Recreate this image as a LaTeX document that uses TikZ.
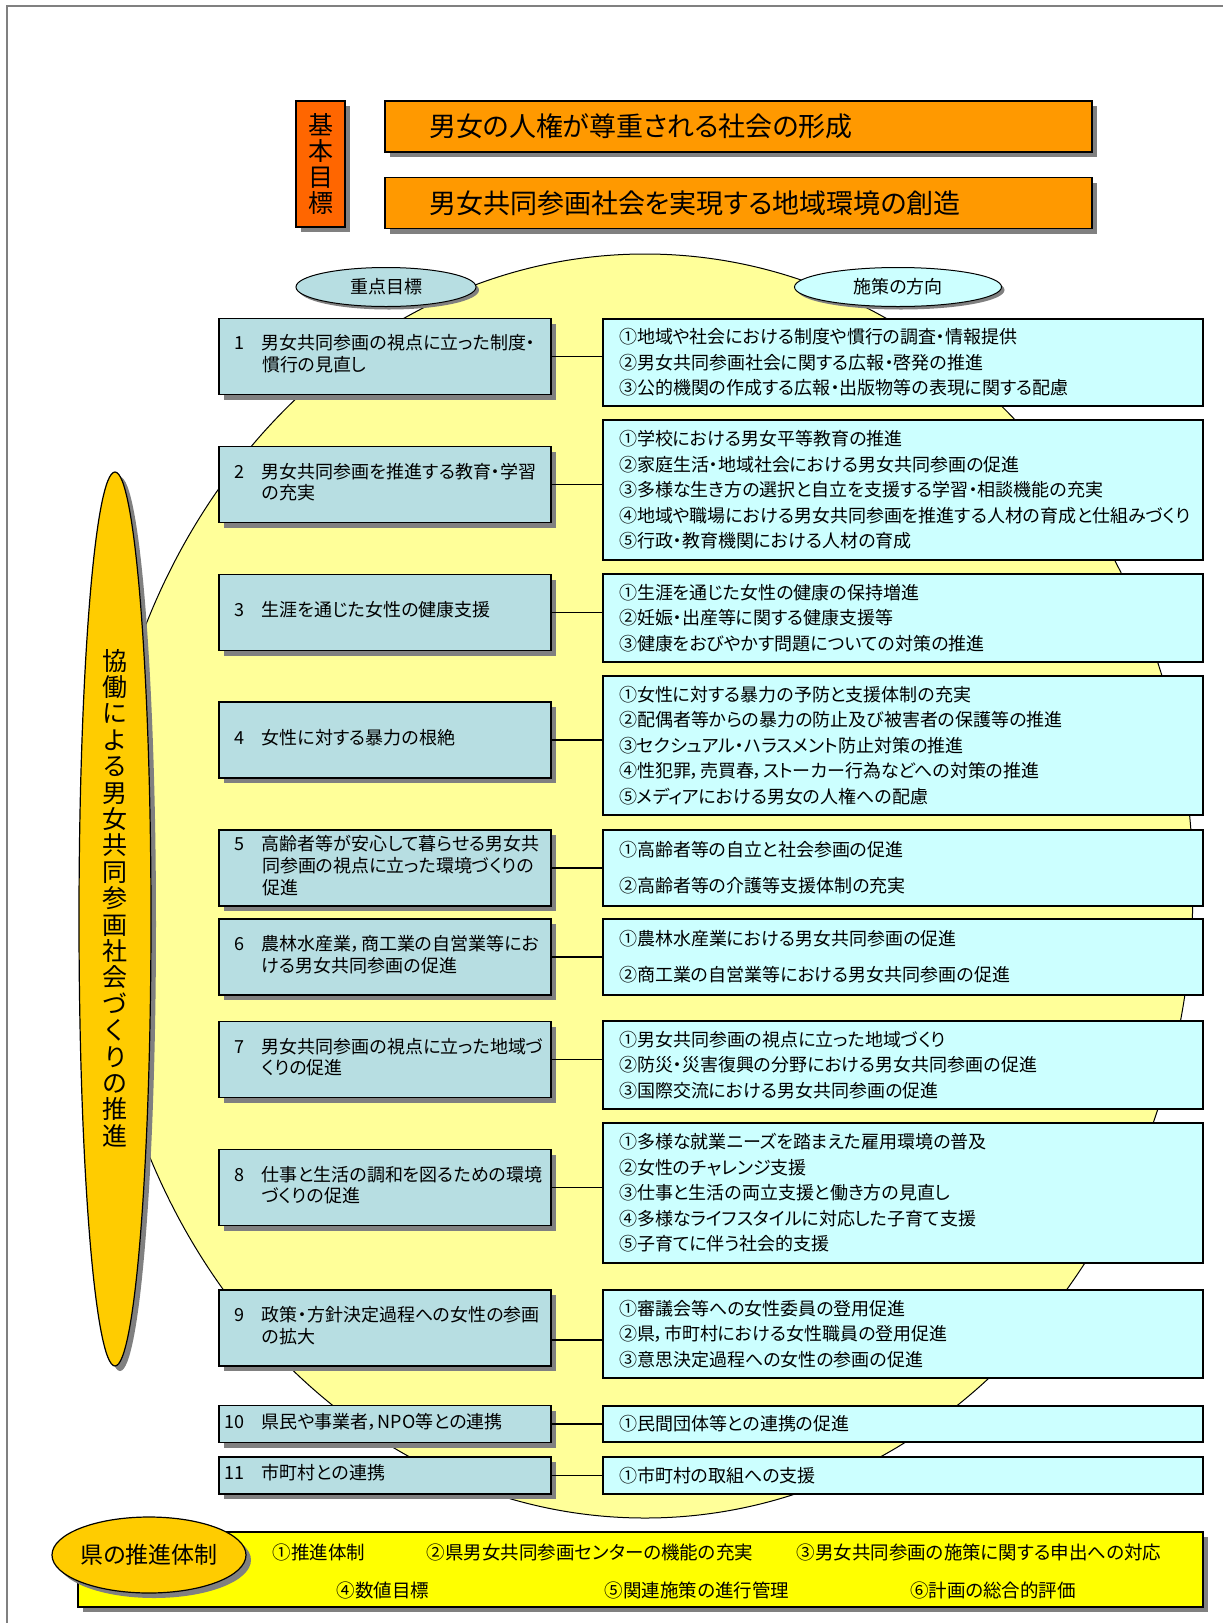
\documentclass[tikz,border=0pt]{standalone}
\usepackage{fontspec}
\setmainfont{Noto Sans CJK JP}[RawFeature=+palt]
\usetikzlibrary{shapes.geometric, shadows}

\definecolor{basefill}{HTML}{FF6600}
\definecolor{titlefill}{HTML}{FF9900}
\definecolor{goldfill}{HTML}{FFCC00}
\definecolor{paleyellow}{HTML}{FFFF99}
\definecolor{goalfill}{HTML}{B7DEE2}
\definecolor{measfill}{HTML}{CCFFFF}
\definecolor{bandfill}{HTML}{FFFF00}
\definecolor{edgegray}{HTML}{808080}

\newcommand{\goallines}[2]{\makebox[20pt][r]{#1}\hspace{18pt}\begin{tabular}[t]{@{}l@{}}#2\end{tabular}}

\begin{document}
\begin{tikzpicture}[x=1pt, y=-1pt,
	boxshadow/.style={drop shadow={shadow xshift=5pt, shadow yshift=-5pt, fill=edgegray, opacity=1}},
	titlebox/.style={draw, line width=1.3pt, fill=titlefill, minimum width=707pt, minimum height=51pt, text width=619pt, inner xsep=44pt, align=left, font=\fontsize{27pt}{30pt}\selectfont, boxshadow},
	headoval/.style={ellipse, draw, line width=1pt, inner sep=0pt, minimum height=39pt, font=\fontsize{18pt}{20pt}\selectfont, drop shadow={shadow xshift=3pt, shadow yshift=-3pt, fill=edgegray, opacity=1}},
	goalbox/.style={draw, line width=1.2pt, fill=goalfill, minimum width=332pt, minimum height=76pt, text width=322pt, inner xsep=5pt, align=left, font=\fontsize{18pt}{21.7pt}\selectfont, boxshadow},
	measbox/.style={draw, line width=1.2pt, fill=measfill, minimum width=600pt, text width=568pt, inner xsep=16pt, align=left, font=\fontsize{18pt}{25.5pt}\selectfont},
	link/.style={line width=1.2pt},
	bandtext/.style={font=\fontsize{18.5pt}{20pt}\selectfont}]
	\useasboundingbox (0,0) rectangle (1223,1623);
	\draw[edgegray, line width=1.5pt] (7,1623) -- (7,6) -- (1223,6);
	\filldraw[fill=paleyellow, line width=1pt] (645,886) ellipse [x radius=548, y radius=632];

	\node[ellipse, draw, line width=1.2pt, fill=goldfill, minimum width=72pt, minimum height=894pt, boxshadow] (coop) at (115,919) {};
	\node[align=center, font=\fontsize{25pt}{26.4pt}\selectfont] (cooptext) at (115,898) {協\\働\\に\\よ\\る\\男\\女\\共\\同\\参\\画\\社\\会\\づ\\く\\り\\の\\推\\進};

	\node[draw, line width=1.3pt, fill=basefill, minimum width=49pt, minimum height=126pt, inner sep=0pt, align=center, font=\fontsize{25pt}{26pt}\selectfont, boxshadow] (base) at (320.5,164) {基\\本\\目\\標};
	\node[titlebox] (aim1) at (738.5,126.5) {男女の人権が尊重される社会の形成};
	\node[titlebox] (aim2) at (738.5,203) {男女共同参画社会を実現する地域環境の創造};

	\node[headoval, fill=goalfill, minimum width=180pt] (goalhead) at (386,287) {重点目標};
	\node[headoval, fill=measfill, minimum width=207pt] (meashead) at (898,287) {施策の方向};

	\node[goalbox] (g1) at (385,356.5) {\goallines{1}{男女共同参画の視点に立った制度・\\慣行の見直し}};
	\node[goalbox] (g2) at (385,484.5) {\goallines{2}{男女共同参画を推進する教育・学習\\の充実}};
	\node[goalbox] (g3) at (385,612.5) {\goallines{3}{生涯を通じた女性の健康支援}};
	\node[goalbox] (g4) at (385,740) {\goallines{4}{女性に対する暴力の根絶}};
	\node[goalbox] (g5) at (385,868) {\goallines{5}{高齢者等が安心して暮らせる男女共\\同参画の視点に立った環境づくりの\\促進}};
	\node[goalbox] (g6) at (385,957) {\goallines{6}{農林水産業，商工業の自営業等にお\\ける男女共同参画の促進}};
	\node[goalbox] (g7) at (385,1059.5) {\goallines{7}{男女共同参画の視点に立った地域づ\\くりの促進}};
	\node[goalbox] (g8) at (385,1187.5) {\goallines{8}{仕事と生活の調和を図るための環境\\づくりの促進}};
	\node[goalbox] (g9) at (385,1328) {\goallines{9}{政策・方針決定過程への女性の参画\\の拡大}};
	\node[goalbox, minimum height=37pt] (g10) at (385,1424) {\goallines{10}{県民や事業者，NPO等との連携}};
	\node[goalbox, minimum height=37pt] (g11) at (385,1475.5) {\goallines{11}{市町村との連携}};

	\node[measbox, minimum height=87pt] (m1) at (903,362.5) {①地域や社会における制度や慣行の調査・情報提供\\②男女共同参画社会に関する広報・啓発の推進\\③公的機関の作成する広報・出版物等の表現に関する配慮};
	\node[measbox, minimum height=140pt] (m2) at (903,490) {①学校における男女平等教育の推進\\②家庭生活・地域社会における男女共同参画の促進\\③多様な生き方の選択と自立を支援する学習・相談機能の充実\\④地域や職場における男女共同参画を推進する人材の育成と仕組みづくり\\⑤行政・教育機関における人材の育成};
	\node[measbox, minimum height=88pt] (m3) at (903,618) {①生涯を通じた女性の健康の保持増進\\②妊娠・出産等に関する健康支援等\\③健康をおびやかす問題についての対策の推進};
	\node[measbox, minimum height=139pt] (m4) at (903,745.5) {①女性に対する暴力の予防と支援体制の充実\\②配偶者等からの暴力の防止及び被害者の保護等の推進\\③セクシュアル・ハラスメント防止対策の推進\\④性犯罪，売買春，ストーカー行為などへの対策の推進\\⑤メディアにおける男女の人権への配慮};
	\node[measbox, minimum height=76pt] (m5) at (903,868) {①高齢者等の自立と社会参画の促進\\[10.5pt]②高齢者等の介護等支援体制の充実};
	\node[measbox, minimum height=76pt] (m6) at (903,957) {①農林水産業における男女共同参画の促進\\[10.5pt]②商工業の自営業等における男女共同参画の促進};
	\node[measbox, minimum height=88pt] (m7) at (903,1065) {①男女共同参画の視点に立った地域づくり\\②防災・災害復興の分野における男女共同参画の促進\\③国際交流における男女共同参画の促進};
	\node[measbox, minimum height=140pt] (m8) at (903,1193) {①多様な就業ニーズを踏まえた雇用環境の普及\\②女性のチャレンジ支援\\③仕事と生活の両立支援と働き方の見直し\\④多様なライフスタイルに対応した子育て支援\\⑤子育てに伴う社会的支援};
	\node[measbox, minimum height=88pt] (m9) at (903,1334) {①審議会等への女性委員の登用促進\\②県，市町村における女性職員の登用促進\\③意思決定過程への女性の参画の促進};
	\node[measbox, minimum height=36pt] (m10) at (903,1424) {①民間団体等との連携の促進};
	\node[measbox, minimum height=37pt] (m11) at (903,1475.5) {①市町村の取組への支援};

	\draw[link] (g1.east) -- (g1.east -| m1.west);
	\draw[link] (g2.east) -- (g2.east -| m2.west);
	\draw[link] (g3.east) -- (g3.east -| m3.west);
	\draw[link] (g4.east) -- (g4.east -| m4.west);
	\draw[link] (g5.east) -- (g5.east -| m5.west);
	\draw[link] (g6.east) -- (g6.east -| m6.west);
	\draw[link] (g7.east) -- (g7.east -| m7.west);
	\draw[link] (g8.east) -- (g8.east -| m8.west);
	\draw[link] ([yshift=-12pt]g9.east) -- ([yshift=-12pt]g9.east -| m9.west);
	\draw[link] (g10.east) -- (g10.east -| m10.west);
	\draw[link] (g11.east) -- (g11.east -| m11.west);

	\node[draw, line width=1.2pt, fill=bandfill, minimum width=1125pt, minimum height=75pt, boxshadow] (plan) at (640.5,1569.5) {};
	\node[ellipse, draw, line width=1.2pt, fill=goldfill, minimum width=194pt, minimum height=76pt, inner sep=0pt, font=\fontsize{23pt}{26pt}\selectfont, boxshadow] (pref) at (149,1555) {県の推進体制};
	\node[bandtext] (p1) at (319,1552) {①推進体制};
	\node[bandtext] (p2) at (590,1552) {②県男女共同参画センターの機能の充実};
	\node[bandtext] (p3) at (979,1552) {③男女共同参画の施策に関する申出への対応};
	\node[bandtext] (p4) at (383,1590) {④数値目標};
	\node[bandtext] (p5) at (697,1590) {⑤関連施策の進行管理};
	\node[bandtext] (p6) at (993,1590) {⑥計画の総合的評価};
\end{tikzpicture}
\end{document}
